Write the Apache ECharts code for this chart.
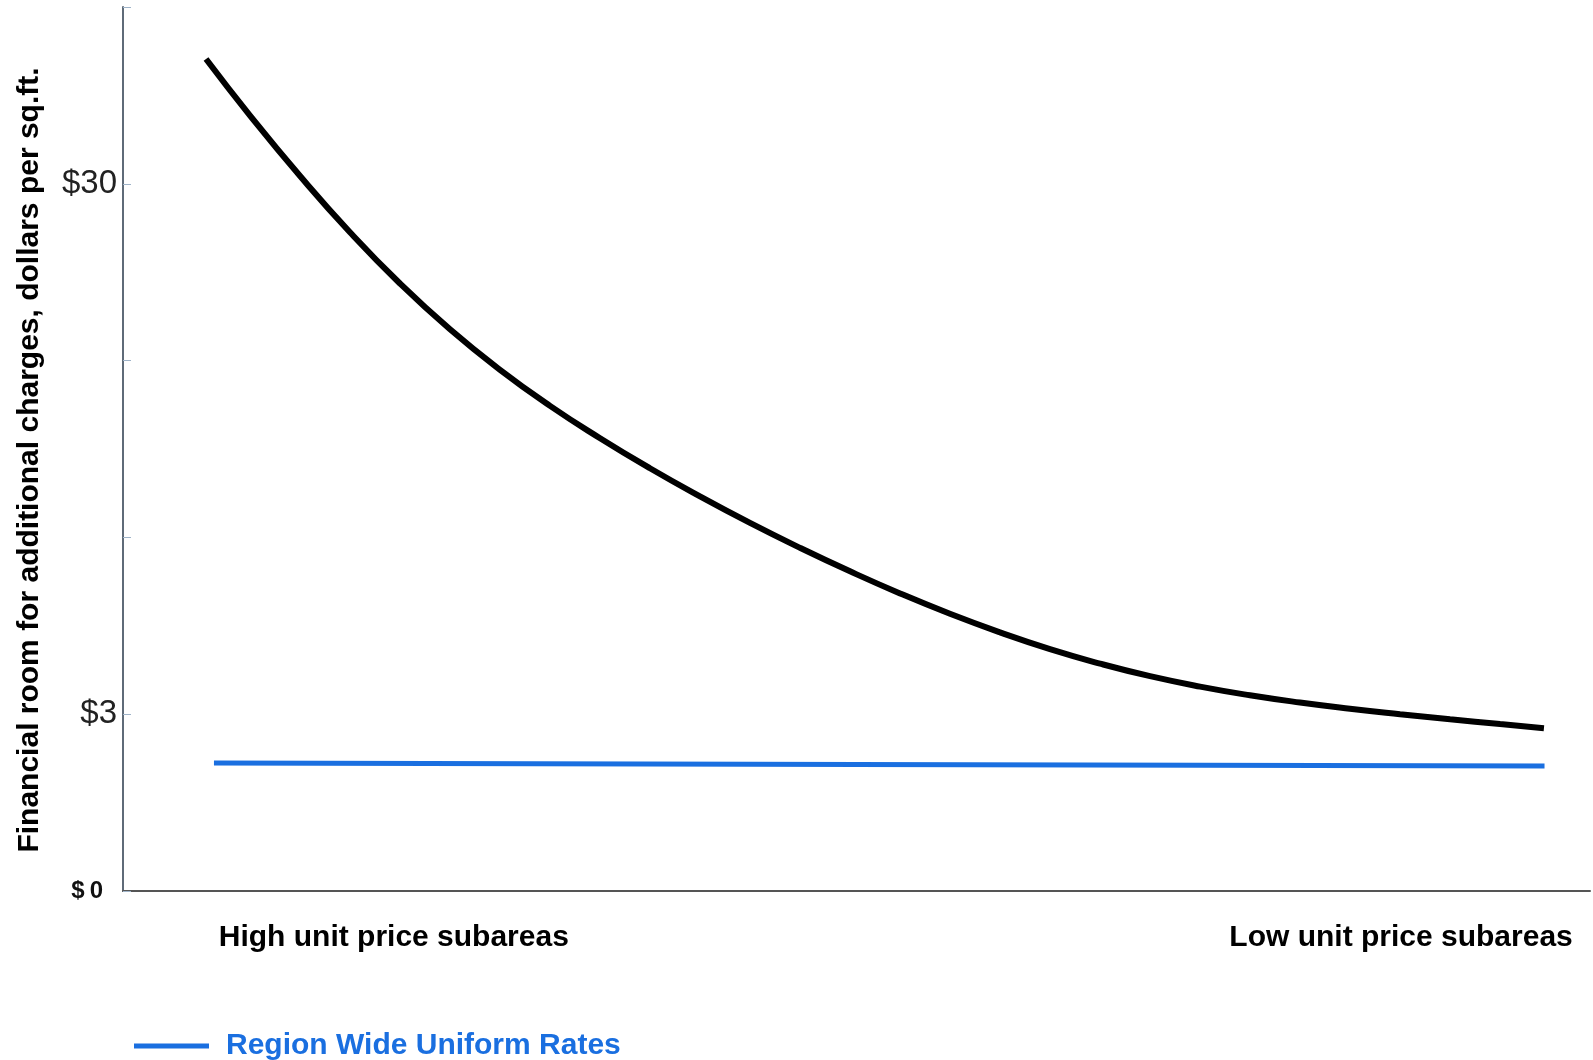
<!DOCTYPE html>
<html>
<head>
<meta charset="utf-8">
<script src="https://cdn.jsdelivr.net/npm/echarts@6/dist/echarts.min.js"></script>
<style>
html,body{margin:0;padding:0;background:#fff;}
#chart{width:1593px;height:1060px;}
</style>
</head>
<body>
<div id="chart"></div>
<script>
// Position along the horizontal scale (0 = left axis, 100 = right end)
const blackX = [5.66, 8.66, 12.07, 15.47, 18.88, 22.29, 25.70, 29.11, 32.52, 35.92, 39.33, 42.74, 46.15, 49.56, 52.97, 56.37, 59.78, 63.19, 66.60, 70.01, 73.42, 76.82, 80.23, 83.64, 87.05, 90.46, 93.87, 96.86];
// Height on the vertical scale (tick steps: 0 = $0, 1 = $3, 4 = $30)
const blackY = [4.706, 4.386, 4.044, 3.726, 3.436, 3.177, 2.948, 2.744, 2.561, 2.391, 2.232, 2.082, 1.941, 1.808, 1.683, 1.568, 1.463, 1.368, 1.286, 1.215, 1.156, 1.107, 1.066, 1.031, 1.000, 0.971, 0.944, 0.921];
const blueX = [6.2, 50, 96.9];
const blueY = [0.724, 0.715, 0.707];
const blueName = 'Region Wide Uniform Rates';
const yTickLabels = {0: '$0', 1: '$3', 4: '$30'};
const xCategoryPos = [18.46, 87.12];
const xCategoryLabels = ['High unit price subareas', 'Low unit price subareas'];
const yAxisTitle = 'Financial room for additional charges, dollars per sq.ft.';

const FONT = '"Liberation Sans", Arial, sans-serif';
const BLUE = '#1a6fe0';
const chart = echarts.init(document.getElementById('chart'));
chart.setOption({
  animation: false,
  backgroundColor: '#fff',
  grid: {left: 123, right: 3, top: 7, bottom: 169, containLabel: false},
  legend: {
    data: [blueName],
    left: 129, top: 1026,
    icon: 'rect', itemWidth: 75, itemHeight: 5,
    textStyle: {color: BLUE, fontSize: 30, fontWeight: 'bold', fontFamily: FONT, padding: [0, 0, 0, 12]}
  },
  xAxis: {
    type: 'value', min: 0, max: 100,
    splitLine: {show: false},
    axisLine: {show: true, lineStyle: {color: '#555', width: 2}},
    axisTick: {show: false},
    axisLabel: {
      customValues: xCategoryPos,
      formatter: function (v) {
        const i = xCategoryPos.indexOf(v);
        return i >= 0 ? xCategoryLabels[i] : '';
      },
      color: '#000', fontSize: 30, fontWeight: 'bold', fontFamily: FONT, margin: 32
    }
  },
  yAxis: {
    type: 'value', min: 0, max: 5, interval: 1,
    splitLine: {show: false},
    axisLine: {show: true, lineStyle: {color: '#5f6b78', width: 2}},
    axisTick: {show: true, inside: true, length: 8, lineStyle: {color: '#9fb3c8', width: 1}},
    axisLabel: {
      formatter: function (v) {
        if (v === 0) return '{d|$}{n|0}';
        return yTickLabels[v] !== undefined ? yTickLabels[v] : '';
      },
      color: '#222', fontSize: 33, fontFamily: FONT, margin: 6,
      rich: {
        d: {fontSize: 24, fontWeight: 'bold', color: '#111', fontFamily: FONT, padding: [0, 5, 0, 0]},
        n: {fontSize: 24, fontWeight: 'bold', color: '#111', fontFamily: FONT, padding: [0, 14, 0, 0]}
      }
    },
    name: yAxisTitle,
    nameLocation: 'middle', nameRotate: 90, nameGap: 78,
    nameTextStyle: {color: '#000', fontSize: 30, fontWeight: 'bold', fontFamily: FONT, padding: [0, 0, 0, -22]}
  },
  series: [
    {
      name: 'Financial room', type: 'line', smooth: true, showSymbol: false,
      data: blackX.map((x, i) => [x, blackY[i]]),
      lineStyle: {color: '#000', width: 6}, itemStyle: {color: '#000'}
    },
    {
      name: blueName, type: 'line', showSymbol: false,
      data: blueX.map((x, i) => [x, blueY[i]]),
      lineStyle: {color: BLUE, width: 5}, itemStyle: {color: BLUE}
    }
  ]
});
</script>
</body>
</html>
